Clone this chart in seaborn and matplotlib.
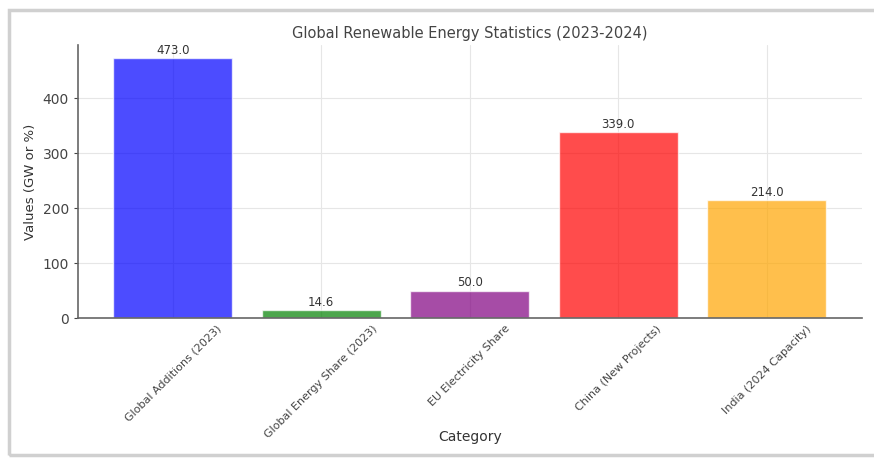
import matplotlib
matplotlib.use("Agg")
import matplotlib.pyplot as plt
import seaborn as sns
import pandas as pd
from matplotlib.patches import Rectangle

# chart data
categories = ['Global Additions (2023)', 'Global Energy Share (2023)', 'EU Electricity Share',
              'China (New Projects)', 'India (2024 Capacity)']
values = [473.0, 14.6, 50.0, 339.0, 214.0]
bar_colors = ['blue', 'green', 'purple', 'red', 'orange']

df = pd.DataFrame({'Category': categories, 'Value': values})

sns.set_style('whitegrid', {'grid.color': '#e6e6e6', 'axes.edgecolor': '#555555'})
plt.rcParams['font.family'] = ['DejaVu Sans']

fig = plt.figure(figsize=(8.74, 4.59), dpi=100)
ax = fig.add_axes([0.089, 0.307, 0.897, 0.595])

sns.barplot(data=df, x='Category', y='Value', hue='Category', palette=bar_colors,
            alpha=0.7, width=0.8, legend=False, saturation=1, ax=ax)

# value labels on top of bars
for i, v in enumerate(values):
    ax.text(i, v + 2, f'{v:.1f}', ha='center', va='bottom', fontsize=8.5, color='#333333')

ax.set_xlim(-0.64, len(values) - 1 + 0.64)
ax.set_ylim(0, 496.6)
ax.set_yticks([0, 100, 200, 300, 400])
ax.grid(True, linewidth=0.8)
ax.set_axisbelow(True)
ax.tick_params(axis='x', labelrotation=45, labelsize=8, colors='#444444', length=0, pad=4)
ax.tick_params(axis='y', labelsize=10, colors='#444444', length=3, left=True)
for lab in ax.get_xticklabels():
    lab.set_ha('center')

for s in ['top', 'right']:
    ax.spines[s].set_visible(False)
for s in ['left', 'bottom']:
    ax.spines[s].set_color('#666666')
    ax.spines[s].set_linewidth(1.2)

ax.set_title('Global Renewable Energy Statistics (2023-2024)', fontsize=10.5, color='#444444', pad=5)
ax.set_xlabel('Category', fontsize=10, color='#333333')
ax.set_ylabel('Values (GW or %)', fontsize=9.5, color='#333333')
ax.xaxis.set_label_coords(0.5, -0.41)

# screenshot frame
fig.patches.append(Rectangle((9 / 874, 4 / 459), 1.0, 445 / 459, transform=fig.transFigure,
                             fill=False, edgecolor='#d0d0d0', linewidth=2.5))

fig.savefig('out.png', dpi=100)
